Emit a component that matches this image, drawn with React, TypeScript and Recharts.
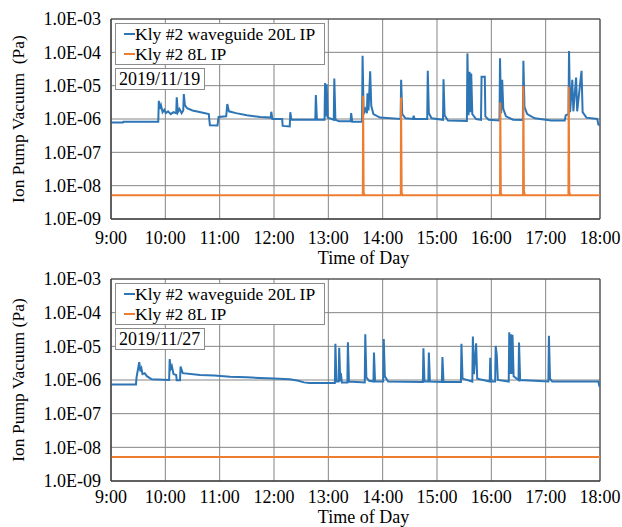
import {
  LineChart,
  Line,
  XAxis,
  YAxis,
  CartesianGrid,
  Legend,
  ReferenceArea,
} from "recharts";

const FONT = "'Liberation Serif', 'Times New Roman', serif";
const BLUE = "#2e75b6";
const ORANGE = "#ed7d31";

const SERIES_NAMES = ["Kly #2 waveguide 20L IP", "Kly #2 8L IP"];
const HOUR_TICKS = [9, 10, 11, 12, 13, 14, 15, 16, 17, 18];
const DECADE_TICKS = [1e-9, 1e-8, 1e-7, 1e-6, 1e-5, 1e-4, 1e-3];

// [hour of day, Pa]
const waveguide19: [number, number][] = [
  [9.0, 7.8e-7], [9.22, 7.8e-7], [9.23, 8.3e-7], [9.87, 8.3e-7],
  [9.88, 3.5e-6], [9.9, 2.0e-6], [9.92, 2.6e-6], [9.95, 1.6e-6],
  [9.98, 1.9e-6], [10.01, 1.5e-6], [10.05, 1.7e-6], [10.1, 1.4e-6],
  [10.15, 1.6e-6], [10.2, 1.5e-6], [10.21, 4.5e-6], [10.23, 1.6e-6],
  [10.26, 2.0e-6], [10.3, 1.5e-6], [10.33, 1.8e-6], [10.34, 5.6e-6],
  [10.36, 2.6e-6], [10.4, 2.1e-6], [10.5, 1.8e-6], [10.65, 1.6e-6],
  [10.8, 1.4e-6], [10.82, 6.5e-7], [10.96, 6.4e-7], [10.98, 1.15e-6],
  [11.12, 1.2e-6], [11.14, 2.8e-6], [11.17, 1.7e-6], [11.3, 1.5e-6],
  [11.5, 1.3e-6], [11.75, 1.15e-6], [11.94, 1.1e-6], [11.95, 1.65e-6],
  [11.97, 1.0e-6], [12.15, 1.0e-6], [12.16, 6.2e-7], [12.29, 6.0e-7],
  [12.3, 1.6e-6], [12.32, 9.5e-7], [12.76, 9.5e-7], [12.77, 5.2e-6],
  [12.79, 9.5e-7], [12.93, 9.5e-7], [12.94, 1.2e-5], [12.96, 1.2e-6],
  [12.97, 1.1e-5], [12.99, 1.1e-6], [13.1, 9.5e-7], [13.11, 1.65e-5],
  [13.13, 9.5e-7], [13.2, 8.5e-7], [13.41, 8.5e-7], [13.42, 1.5e-6],
  [13.44, 8.3e-7], [13.62, 8.3e-7], [13.63, 7.9e-5], [13.65, 1.4e-6],
  [13.68, 2.0e-6], [13.71, 1.5e-6], [13.72, 5.9e-6], [13.74, 1.8e-6],
  [13.77, 2.7e-5], [13.79, 2.5e-6], [13.83, 1.4e-6], [13.95, 1.1e-6],
  [14.33, 1.0e-6], [14.34, 1.5e-5], [14.36, 1.4e-6], [14.42, 1.05e-6],
  [14.56, 1.0e-6], [14.57, 1.25e-6], [14.59, 1.0e-6], [14.82, 1.0e-6],
  [14.83, 2.8e-5], [14.85, 1.5e-6], [14.9, 1.05e-6], [15.11, 9.5e-7],
  [15.12, 1.55e-5], [15.14, 1.3e-6], [15.2, 9.0e-7], [15.55, 8.7e-7],
  [15.56, 9.3e-5], [15.58, 1.3e-6], [15.6, 2.6e-5], [15.62, 1.6e-6],
  [15.63, 2.3e-5], [15.65, 1.4e-6], [15.72, 1.0e-6], [15.81, 9.5e-7],
  [15.82, 1.85e-5], [15.88, 1.85e-5], [15.89, 1.2e-6], [15.95, 9.5e-7],
  [16.15, 9.0e-7], [16.16, 6.6e-5], [16.18, 1.5e-6], [16.2, 1.5e-5],
  [16.22, 2.0e-6], [16.27, 1.2e-6], [16.4, 9.5e-7], [16.58, 9.3e-7],
  [16.59, 5.6e-5], [16.61, 2.3e-6], [16.66, 1.4e-6], [16.8, 1.05e-6],
  [17.1, 9.0e-7], [17.35, 9.0e-7], [17.37, 1.3e-6], [17.42, 1.4e-6],
  [17.43, 1.1e-4], [17.45, 1.6e-6], [17.49, 1.5e-5], [17.51, 1.7e-6],
  [17.56, 1.75e-5], [17.58, 1.7e-6], [17.66, 2.8e-5], [17.68, 1.6e-6],
  [17.75, 1.1e-6], [17.95, 1.0e-6], [17.97, 6.8e-7], [18.0, 6.5e-7],
];

const ip8L19: [number, number][] = [
  [9.0, 5.2e-9], [13.635, 5.2e-9], [13.64, 5.0e-6], [13.65, 6.0e-9],
  [13.67, 5.2e-9], [14.333, 5.2e-9], [14.338, 4.4e-6], [14.35, 6.0e-9],
  [14.37, 5.2e-9], [16.16, 5.2e-9], [16.165, 3.1e-6], [16.175, 6.0e-9],
  [16.19, 5.2e-9], [16.584, 5.2e-9], [16.589, 9.8e-6], [16.6, 6.5e-9],
  [16.62, 5.2e-9], [17.419, 5.2e-9], [17.424, 9.3e-6], [17.435, 6.5e-9],
  [17.45, 5.2e-9], [18.0, 5.2e-9],
];

// [hour of day, Pa]
const waveguide27: [number, number][] = [
  [9.0, 7.4e-7], [9.46, 7.4e-7], [9.47, 1.2e-6], [9.52, 3.4e-6],
  [9.54, 1.8e-6], [9.56, 2.2e-6], [9.58, 1.5e-6], [9.62, 1.6e-6],
  [9.66, 1.3e-6], [9.75, 1.05e-6], [10.07, 1.0e-6], [10.08, 4.2e-6],
  [10.1, 2.2e-6], [10.12, 2.6e-6], [10.15, 1.5e-6], [10.2, 1.4e-6],
  [10.21, 9.8e-7], [10.27, 9.8e-7], [10.28, 2.5e-6], [10.32, 1.6e-6],
  [10.64, 1.4e-6], [10.9, 1.35e-6], [11.19, 1.25e-6], [11.5, 1.2e-6],
  [11.74, 1.15e-6], [12.0, 1.1e-6], [12.29, 1.05e-6], [12.45, 9.5e-7],
  [12.55, 8.5e-7], [12.65, 8.2e-7], [13.12, 8.2e-7], [13.13, 1.2e-5],
  [13.15, 9.0e-7], [13.19, 9.0e-7], [13.2, 9.1e-6], [13.22, 9.0e-7],
  [13.23, 1.6e-6], [13.25, 8.5e-7], [13.35, 8.5e-7], [13.36, 1.33e-5],
  [13.38, 9.0e-7], [13.67, 8.5e-7], [13.68, 2.3e-5], [13.7, 1.2e-6],
  [13.75, 9.5e-7], [13.83, 9.0e-7], [13.84, 6.5e-6], [13.86, 9.0e-7],
  [14.01, 9.0e-7], [14.02, 1.66e-5], [14.04, 1.3e-6], [14.1, 9.0e-7],
  [14.74, 8.7e-7], [14.75, 8.8e-6], [14.77, 9.0e-7], [14.84, 9.0e-7],
  [14.85, 6.5e-6], [14.87, 9.0e-7], [15.09, 8.7e-7], [15.1, 4.8e-6],
  [15.12, 8.7e-7], [15.44, 8.7e-7], [15.45, 1.2e-5], [15.47, 1.1e-6],
  [15.65, 9.0e-7], [15.66, 1.95e-5], [15.68, 1.5e-6], [15.72, 1.23e-5],
  [15.74, 1.1e-6], [15.97, 9.0e-7], [15.98, 4.6e-6], [16.0, 9.0e-7],
  [16.07, 9.0e-7], [16.08, 1.03e-5], [16.1, 5.5e-6], [16.12, 1.0e-6],
  [16.32, 9.0e-7], [16.33, 2.6e-5], [16.345, 1.5e-6], [16.36, 2.3e-5],
  [16.375, 1.5e-6], [16.39, 2.2e-5], [16.41, 1.3e-6], [16.5, 1.0e-6],
  [16.51, 1.3e-5], [16.53, 1.0e-6], [17.05, 9.0e-7], [17.06, 2.05e-5],
  [17.08, 1.1e-6], [17.12, 9.0e-7], [17.97, 9.0e-7], [17.99, 6.5e-7],
  [18.0, 6.3e-7],
];

const ip8L27: [number, number][] = [
  [9.0, 5.2e-9],
  [18.0, 5.2e-9],
];

const toRows = (pts: [number, number][]) => pts.map(([h, pa]) => ({ h, pa }));

function hourLabel(h: number) {
  return `${h}:00`;
}

function sciLabel(v: number) {
  const exp = Math.round(Math.log10(v));
  const sign = exp < 0 ? "-" : "+";
  return `1.0E${sign}${String(Math.abs(exp)).padStart(2, "0")}`;
}

function LegendBoxes({ payload, date }: { payload?: any[]; date: string }) {
  const items = [...(payload ?? [])].sort(
    (a, b) => SERIES_NAMES.indexOf(a.value) - SERIES_NAMES.indexOf(b.value)
  );
  const box = {
    border: "1px solid #8c8c8c",
    background: "#fff",
    boxSizing: "border-box" as const,
    fontFamily: FONT,
    color: "#000",
  };
  return (
    <div>
      <div style={{ ...box, width: 210, height: 42, fontSize: 17.5 }}>
        {items.map((p) => (
          <div
            key={p.value}
            style={{ display: "flex", alignItems: "center", height: 20, lineHeight: "20px" }}
          >
            <span
              style={{ display: "inline-block", width: 11, height: 2, background: p.color, marginLeft: 8 }}
            />
            <span>{p.value}</span>
          </div>
        ))}
      </div>
      <div
        style={{ ...box, width: 90, height: 22, marginTop: 3, fontSize: 18, lineHeight: "20px", paddingLeft: 3 }}
      >
        {date}
      </div>
    </div>
  );
}

function Panel({
  top,
  height,
  plotHeight,
  tickGap,
  titleOffset,
  date,
  yTitle,
  blue,
  orange,
}: {
  top: number;
  height: number;
  plotHeight: number;
  tickGap: number;
  titleOffset: number;
  date: string;
  yTitle: string;
  blue: [number, number][];
  orange: [number, number][];
}) {
  const xAxisHeight = height - 19 - plotHeight;
  return (
    <div style={{ position: "absolute", left: 0, top, width: 622, height }}>
      <LineChart width={622} height={height} margin={{ top: 19, right: 22, bottom: 0, left: 0 }}>
        <CartesianGrid stroke="#858585" />
        <XAxis
          type="number"
          dataKey="h"
          domain={[9, 18]}
          ticks={HOUR_TICKS}
          tickFormatter={hourLabel}
          allowDataOverflow
          height={xAxisHeight}
          tickLine={false}
          tickSize={0}
          tickMargin={tickGap}
          axisLine={{ stroke: "#404040" }}
          tick={{ fill: "#000", fontSize: 18, fontFamily: FONT }}
          label={{
            value: "Time of Day",
            position: "insideBottom",
            offset: titleOffset,
            dx: 8,
            fill: "#000",
            fontSize: 18,
            fontFamily: FONT,
          }}
        />
        <YAxis
          type="number"
          dataKey="pa"
          scale="log"
          domain={[1e-9, 1e-3]}
          ticks={DECADE_TICKS}
          tickFormatter={sciLabel}
          allowDataOverflow
          width={111}
          tickLine={false}
          tickSize={0}
          tickMargin={10}
          axisLine={{ stroke: "#404040" }}
          tick={{ fill: "#000", fontSize: 18, fontFamily: FONT }}
          label={{
            value: yTitle,
            angle: -90,
            position: "insideLeft",
            offset: 18,
            fill: "#000",
            fontSize: 17.5,
            fontFamily: FONT,
            style: { textAnchor: "middle" },
          }}
        />
        <ReferenceArea
          x1={9}
          x2={18}
          y1={1e-9}
          y2={1e-3}
          fill="none"
          stroke="#404040"
          strokeWidth={1}
          ifOverflow="visible"
        />
        <Legend
          layout="vertical"
          align="center"
          verticalAlign="middle"
          wrapperStyle={{ left: 115, top: 23, width: "auto", height: "auto" }}
          content={(props: any) => <LegendBoxes payload={props.payload} date={date} />}
        />
        <Line
          data={toRows(blue)}
          dataKey="pa"
          name={SERIES_NAMES[0]}
          type="linear"
          stroke={BLUE}
          strokeWidth={2}
          dot={false}
          isAnimationActive={false}
        />
        <Line
          data={toRows(orange)}
          dataKey="pa"
          name={SERIES_NAMES[1]}
          type="linear"
          stroke={ORANGE}
          strokeWidth={2}
          dot={false}
          isAnimationActive={false}
        />
      </LineChart>
    </div>
  );
}

export default function App() {
  return (
    <div style={{ position: "absolute", left: 0, top: 0, width: 622, height: 527, background: "#fff", overflow: "hidden" }}>
      <Panel
        top={0}
        height={272}
        plotHeight={200}
        tickGap={12}
        titleOffset={8}
        date="2019/11/19"
        yTitle={"Ion Pump Vacuum\u00a0\u00a0(Pa)"}
        blue={waveguide19}
        orange={ip8L19}
      />
      <Panel
        top={260}
        height={267}
        plotHeight={202}
        tickGap={9}
        titleOffset={4}
        date="2019/11/27"
        yTitle="Ion Pump Vacuum (Pa)"
        blue={waveguide27}
        orange={ip8L27}
      />
    </div>
  );
}
